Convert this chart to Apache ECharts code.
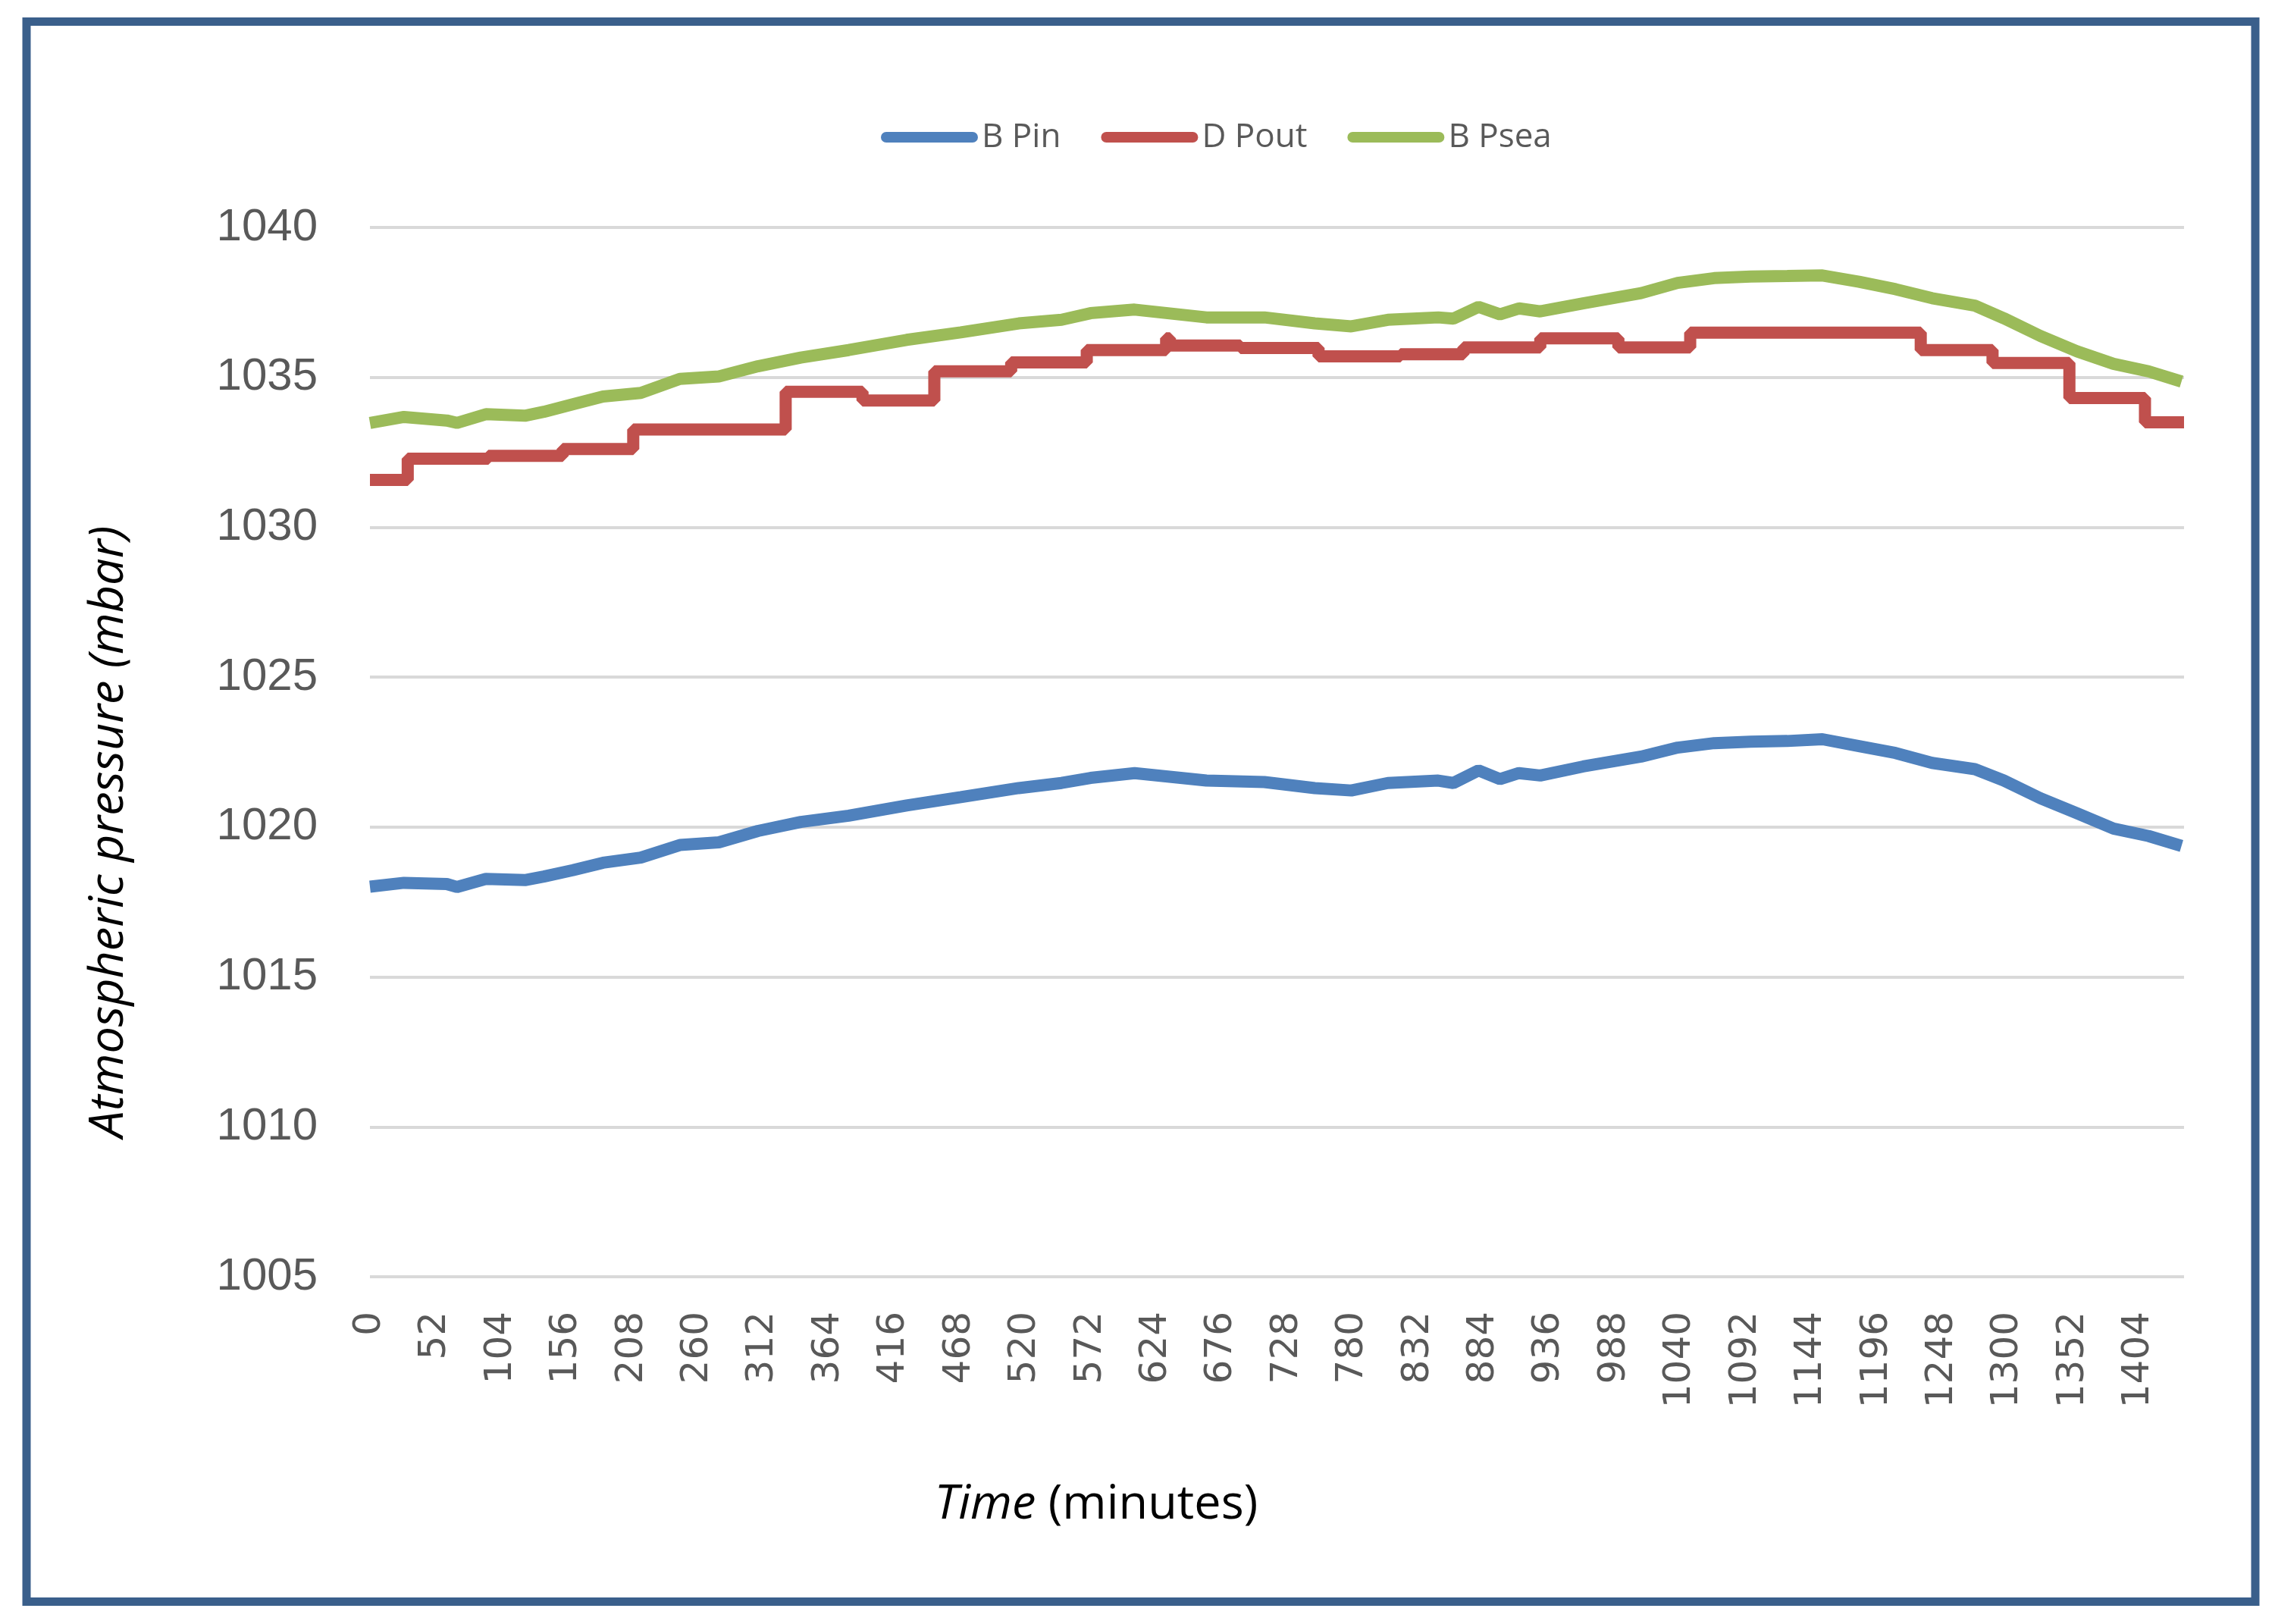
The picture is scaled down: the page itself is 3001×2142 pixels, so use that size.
<!DOCTYPE html>
<html>
<head>
<meta charset="utf-8">
<script src="https://cdn.jsdelivr.net/npm/echarts@6/dist/echarts.min.js"></script>
<style>
html,body{margin:0;padding:0;background:#fff;}
#chart{width:3001px;height:2142px;}
</style>
</head>
<body>
<div id="chart"></div>
<script>
// Time (minutes) sample points for the two smooth series
const times = [0,27,61,69,92,123,138,161,185,215,246,277,308,342,380,426,469,515,549,572,607,664,710,750,779,808,848,860,880,897,912,929,963,1009,1038,1067,1096,1125,1153,1182,1211,1240,1274,1297,1326,1355,1384,1412,1438];
const bPin = [1018.01,1018.14,1018.10,1018.00,1018.27,1018.23,1018.35,1018.56,1018.81,1018.98,1019.40,1019.49,1019.87,1020.17,1020.38,1020.72,1021.00,1021.30,1021.47,1021.64,1021.80,1021.55,1021.50,1021.30,1021.22,1021.47,1021.55,1021.47,1021.89,1021.60,1021.80,1021.72,1022.02,1022.35,1022.65,1022.80,1022.85,1022.87,1022.93,1022.70,1022.47,1022.14,1021.93,1021.55,1020.96,1020.46,1019.95,1019.70,1019.37];
const bPsea = [1033.48,1033.68,1033.56,1033.48,1033.77,1033.72,1033.85,1034.10,1034.36,1034.48,1034.95,1035.03,1035.37,1035.66,1035.91,1036.25,1036.50,1036.80,1036.92,1037.14,1037.26,1037.00,1037.00,1036.80,1036.70,1036.92,1037.00,1036.96,1037.35,1037.10,1037.30,1037.20,1037.47,1037.81,1038.15,1038.31,1038.36,1038.38,1038.40,1038.19,1037.94,1037.64,1037.39,1036.97,1036.38,1035.87,1035.45,1035.20,1034.86];
// D Pout is a step series: value holds from each change time until the next
const poutTimes = [0,30,94,153,209,330,391,448,509,569,632,635,691,753,818,868,929,991,1048,1231,1288,1349,1409,1440];
const poutValues = [1031.58,1032.29,1032.38,1032.61,1033.26,1034.52,1034.23,1035.20,1035.50,1035.91,1036.30,1036.06,1035.98,1035.70,1035.77,1036.00,1036.30,1036.00,1036.49,1035.91,1035.48,1034.31,1033.50,1033.50];
const seriesNames = ['B Pin','D Pout','B Psea'];
const yTicks = {min:1005, max:1040, interval:5};
const xTicks = {min:0, max:1440, interval:52};

const pair = (xs, ys) => xs.map((x, i) => [x, ys[i]]);
const plain = v => String(v);

const chart = echarts.init(document.getElementById('chart'), null, {renderer:'canvas'});
const capsule = 'path://M7,0 H121 A7,7 0 0 1 121,14 H7 A7,7 0 0 1 7,0 Z';

chart.setOption({
  animation:false,
  backgroundColor:'#ffffff',
  color:['#4F81BD','#C0504D','#9BBB59'],
  legend:{
    left:1157, top:154,
    itemWidth:128, itemHeight:14, itemGap:53,
    icon:capsule,
    textStyle:{fontFamily:'Open Sans', fontSize:44, color:'#595959'},
    data:seriesNames
  },
  grid:{left:488, right:120, top:300, bottom:458, containLabel:false},
  xAxis:{
    type:'value',
    min:xTicks.min, max:xTicks.max, interval:xTicks.interval,
    axisLine:{show:false},
    axisTick:{show:false},
    splitLine:{show:false},
    axisLabel:{rotate:90, margin:46, fontFamily:'DejaVu Sans', fontSize:50, color:'#595959', showMaxLabel:false, formatter:plain}
  },
  yAxis:{
    type:'value',
    min:yTicks.min, max:yTicks.max, interval:yTicks.interval,
    axisLine:{show:false},
    axisTick:{show:false},
    splitLine:{lineStyle:{color:'#D9D9D9', width:4}},
    axisLabel:{margin:69, fontFamily:'Liberation Sans', fontSize:60, color:'#595959', formatter:plain}
  },
  graphic:[
    {type:'rect', shape:{x:35, y:28.5, width:2940, height:2084}, style:{fill:'none', stroke:'#3A5F8B', lineWidth:11}, silent:true},
    {type:'text', x:144, y:1097, rotation:Math.PI/2,
      style:{text:'Atmospheric pressure (mbar)', fontFamily:'Open Sans', fontStyle:'italic', fontSize:63, fill:'#000', textAlign:'center', textVerticalAlign:'middle'}},
    {type:'text', x:1446, y:1985,
      style:{text:'{i|Time} (minutes)', fontFamily:'Open Sans', fontSize:63, fill:'#000', textAlign:'center', textVerticalAlign:'middle',
        rich:{i:{fontFamily:'Open Sans', fontStyle:'italic', fontSize:63, fill:'#000'}}}}
  ],
  series:[
    {name:seriesNames[0], type:'line', data:pair(times,bPin), symbol:'none', lineStyle:{width:16, color:'#4F81BD'}, z:3},
    {name:seriesNames[1], type:'line', data:pair(poutTimes,poutValues), step:'end', symbol:'none', lineStyle:{width:16, color:'#C0504D'}, z:2},
    {name:seriesNames[2], type:'line', data:pair(times,bPsea), symbol:'none', lineStyle:{width:16, color:'#9BBB59'}, z:4}
  ]
});
</script>
</body>
</html>
